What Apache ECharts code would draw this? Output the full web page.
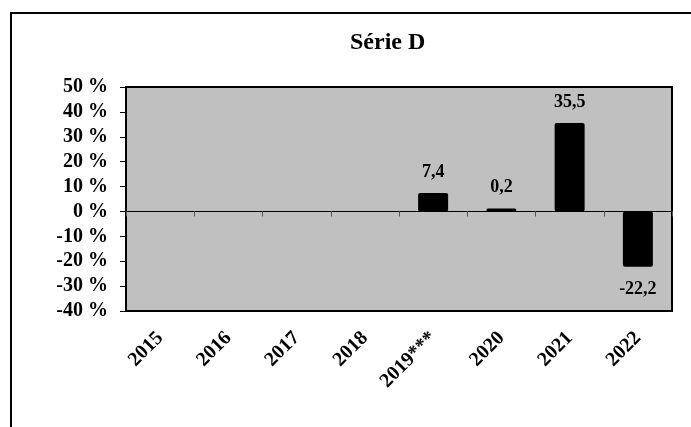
<!DOCTYPE html>
<html>
<head>
<meta charset="utf-8">
<script src="https://cdn.jsdelivr.net/npm/echarts@6/dist/echarts.min.js"></script>
<style>
  html, body { margin: 0; padding: 0; background: #fff; }
  #chart { width: 691px; height: 427px; }
</style>
</head>
<body>
<div id="chart"></div>
<script>
// categories and values (%)
const years = ['2015', '2016', '2017', '2018', '2019***', '2020', '2021', '2022'];
const values = [null, null, null, null, 7.4, 0.2, 35.5, -22.2];
const yMin = -40;
const yMax = 50;
const yStep = 10;

const font = 'Liberation Serif';
const chart = echarts.init(document.getElementById('chart'));

// negative bars get the label below
const barData = values.map(v => v == null ? null : {
  value: v,
  label: { position: v < 0 ? 'bottom' : 'top', distance: v < 0 ? 14 : 12 }
});

chart.setOption({
  animation: false,
  title: {
    text: 'Série D',
    left: 345,
    top: 26,
    textStyle: { fontFamily: font, fontSize: 24, fontWeight: 'bold', color: '#000' }
  },
  graphic: [{
    type: 'rect',
    shape: { x: 11, y: 13, width: 720, height: 500 },
    style: { fill: 'none', stroke: '#000', lineWidth: 2 },
    silent: true
  }],
  grid: {
    left: 126, top: 87, right: 19, bottom: 116,
    show: true,
    backgroundColor: '#c0c0c0',
    borderColor: '#000',
    borderWidth: 2
  },
  xAxis: [
    {
      type: 'category',
      data: years,
      position: 'bottom',
      axisLine: { show: false, onZero: false },
      axisTick: { show: false },
      axisLabel: {
        rotate: 45,
        margin: 24,
        interval: 0,
        fontFamily: font, fontSize: 20, fontWeight: 'bold', color: '#000'
      }
    },
    {
      type: 'category',
      data: years,
      position: 'bottom',
      axisLine: { show: true, onZero: true, lineStyle: { color: '#000', width: 1 } },
      axisTick: { show: true, length: 5, lineStyle: { color: '#555' } },
      axisLabel: { show: false }
    }
  ],
  yAxis: {
    type: 'value',
    min: yMin,
    max: yMax,
    interval: yStep,
    axisLine: { show: false },
    axisTick: { show: true, length: 6, lineStyle: { color: '#000' } },
    splitLine: { show: false },
    axisLabel: {
      margin: 18,
      formatter: '{value} %',
      fontFamily: font, fontSize: 20, fontWeight: 'bold', color: '#000'
    }
  },
  series: [{
    type: 'bar',
    xAxisIndex: 0,
    data: barData,
    barWidth: 30,
    barMinHeight: 3,
    itemStyle: { color: '#000', borderRadius: 2 },
    label: {
      show: true,
      formatter: p => String(p.value).replace('.', ','),
      fontFamily: font, fontSize: 18, fontWeight: 'bold', color: '#000'
    }
  }]
});
</script>
</body>
</html>
